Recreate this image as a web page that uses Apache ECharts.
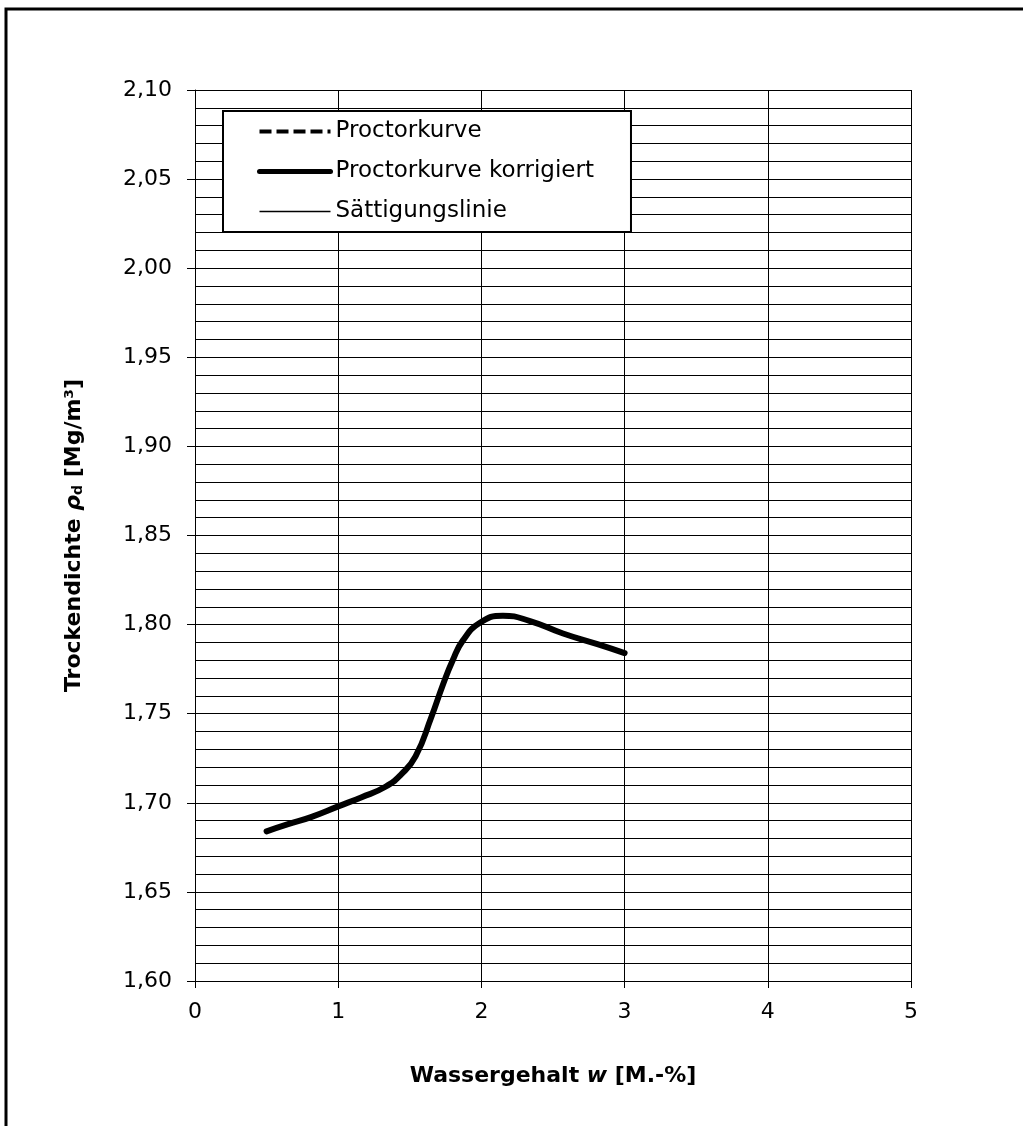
<!DOCTYPE html>
<html>
<head>
<meta charset="utf-8">
<title>Proctorkurve</title>
<script src="https://cdn.jsdelivr.net/npm/echarts@6/dist/echarts.min.js"></script>
<style>
  html, body { margin: 0; padding: 0; background: #fff; }
  #chart { width: 1023px; height: 1126px; }
</style>
</head>
<body>
<div id="chart"></div>
<script>
// Wassergehalt w [M.-%] und Trockendichte [Mg/m³]
const wasser = [0.50, 0.65, 0.81, 1.00, 1.16, 1.33, 1.44, 1.54, 1.65, 1.73, 1.80, 1.87, 1.99, 2.15, 2.34, 2.57, 2.81, 3.00];
const dichte = [1.684, 1.688, 1.692, 1.698, 1.703, 1.709, 1.716, 1.726, 1.748, 1.766, 1.780, 1.791, 1.801, 1.805, 1.802, 1.795, 1.789, 1.784];
// Sättigungslinie liegt ausserhalb des Achsbereichs
const saettigung = [];
const seriesNames = ['Proctorkurve', 'Proctorkurve korrigiert', 'Sättigungslinie'];

const FONT = 'DejaVu Sans';
const pairs = (xs, ys) => xs.map((x, i) => [x, ys[i]]);

const chart = echarts.init(document.getElementById('chart'));

const option = {
    backgroundColor: '#fff',
    animation: false,
    textStyle: { fontFamily: FONT, color: '#000' },
    graphic: [{
        type: 'rect',
        shape: { x: 6, y: 9, width: 1100, height: 1200 },
        style: { fill: 'none', stroke: '#000', lineWidth: 3 },
        silent: true
    }],
    grid: { left: 195, right: 112, top: 90, bottom: 145 },
    legend: {
        orient: 'vertical',
        left: 223,
        top: 111,
        padding: [9, 37, 9, 34],
        itemWidth: 71,
        itemHeight: 22,
        itemGap: 17,
        borderColor: '#000',
        borderWidth: 2,
        backgroundColor: '#fff',
        itemStyle: { opacity: 0 },
        textStyle: { fontFamily: FONT, fontSize: 23, color: '#000', lineHeight: 22 },
        data: [
            { name: seriesNames[0], lineStyle: { width: 4, type: [12, 5], color: '#000' } },
            { name: seriesNames[1], lineStyle: { width: 5, color: '#000' } },
            { name: seriesNames[2], lineStyle: { width: 1.5, color: '#000' } }
        ]
    },
    xAxis: {
        type: 'value',
        min: 0,
        max: 5,
        interval: 1,
        name: 'Wassergehalt {i|w} [M.-%]',
        nameLocation: 'middle',
        nameGap: 84,
        nameTextStyle: {
            fontFamily: FONT, fontSize: 22, fontWeight: 'bold', color: '#000',
            rich: { i: { fontFamily: FONT, fontSize: 22, fontWeight: 'bold', fontStyle: 'italic' } }
        },
        axisLine: { lineStyle: { color: '#000', width: 1 } },
        axisTick: { show: true, inside: false, length: 7, lineStyle: { color: '#000' } },
        axisLabel: { fontFamily: FONT, fontSize: 22, color: '#000', margin: 20 },
        splitLine: { show: true, lineStyle: { color: '#000', width: 1 } }
    },
    yAxis: {
        type: 'value',
        min: 1.6,
        max: 2.1,
        interval: 0.05,
        name: 'Trockendichte {i|ρ}{sub|d} [Mg/m³]',
        nameLocation: 'middle',
        nameRotate: 90,
        nameGap: 110,
        nameTextStyle: {
            fontFamily: FONT, fontSize: 22, fontWeight: 'bold', color: '#000',
            rich: {
                i: { fontFamily: FONT, fontSize: 22, fontStyle: 'italic' },
                sub: { fontFamily: FONT, fontSize: 14, verticalAlign: 'bottom', padding: [6, 0, 0, 0] }
            }
        },
        axisLine: { show: true, lineStyle: { color: '#000', width: 1 } },
        axisTick: { show: true, inside: false, length: 8, lineStyle: { color: '#000' } },
        axisLabel: {
            fontFamily: FONT, fontSize: 22, color: '#000', margin: 23,
            formatter: v => v.toFixed(2).replace('.', ',')
        },
        splitLine: { show: true, lineStyle: { color: '#000', width: 1 } },
        minorTick: { show: false, splitNumber: 5 },
        minorSplitLine: { show: true, lineStyle: { color: '#000', width: 1 } }
    },
    series: [
        {
            name: seriesNames[0],
            type: 'line',
            data: pairs(wasser, dichte),
            symbol: 'none',
            smooth: 0.5,
            z: 2,
            lineStyle: { color: '#000', width: 4, type: [12, 5] },
            itemStyle: { color: '#000' }
        },
        {
            name: seriesNames[1],
            type: 'line',
            data: pairs(wasser, dichte),
            symbol: 'none',
            smooth: 0.5,
            z: 3,
            lineStyle: { color: '#000', width: 6, cap: 'round', join: 'round' },
            itemStyle: { color: '#000' }
        },
        {
            name: seriesNames[2],
            type: 'line',
            data: saettigung,
            symbol: 'none',
            lineStyle: { color: '#000', width: 1.5 },
            itemStyle: { color: '#000' }
        }
    ]
};

chart.setOption(option);
</script>
</body>
</html>
